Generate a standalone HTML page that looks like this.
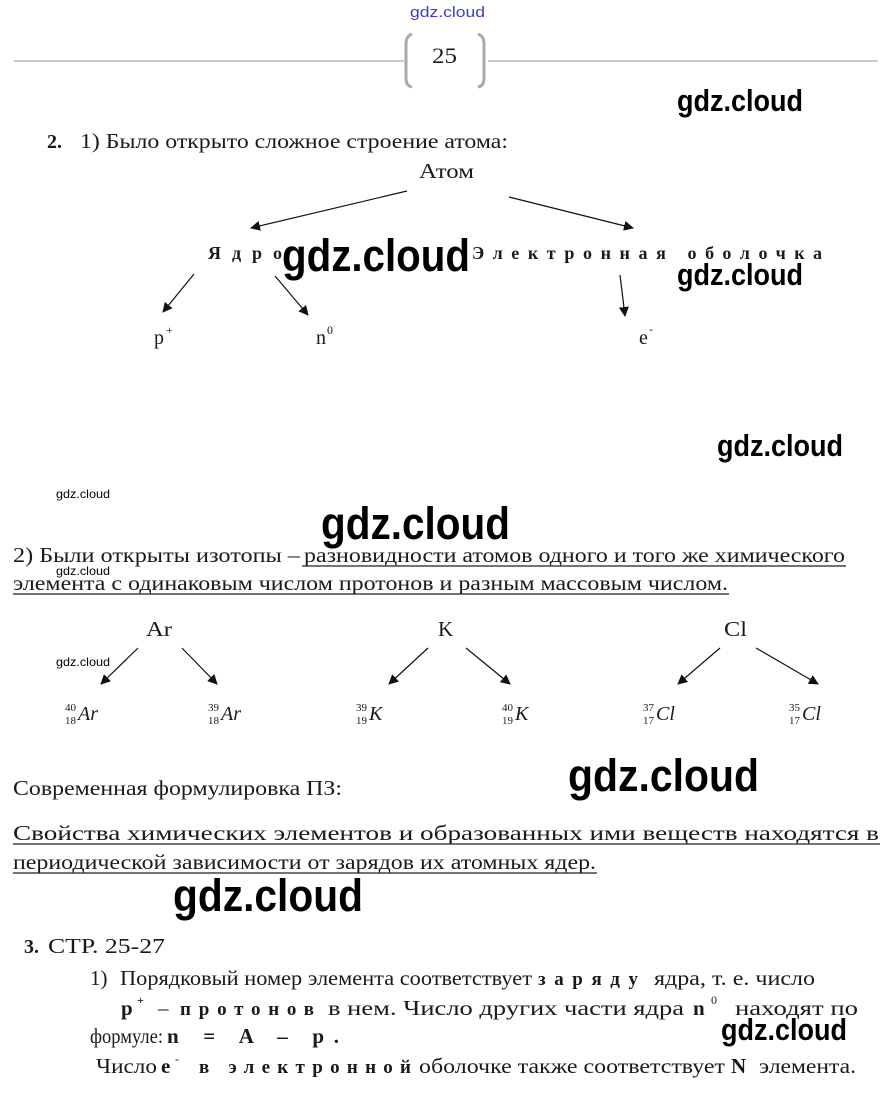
<!DOCTYPE html>
<html><head><meta charset="utf-8"><style>
html,body{margin:0;padding:0;background:#fff;}
svg{display:block;}
.s{font-family:"Liberation Serif","DejaVu Serif",serif;fill:#1a1a1a;}
.w{font-family:"Liberation Sans","DejaVu Sans",sans-serif;fill:#000;font-weight:bold;}
.b{font-weight:bold;}
</style></head><body>
<svg width="892" height="1101" viewBox="0 0 892 1101" xmlns="http://www.w3.org/2000/svg">
<defs>
<marker id="a" markerWidth="10" markerHeight="10" refX="9" refY="5" orient="auto" markerUnits="userSpaceOnUse" viewBox="0 0 10 10">
<path d="M0,0 L10,5 L0,10 z" fill="#111"/></marker>
</defs>
<text x="410" y="17" font-size="15" style="fill:#3b3bd0;font-family:'Liberation Sans',sans-serif" textLength="75" lengthAdjust="spacingAndGlyphs">gdz.cloud</text>
<line x1="14" y1="61" x2="404" y2="61" stroke="#bbb" stroke-width="1.5"/>
<line x1="488" y1="61" x2="878" y2="61" stroke="#bbb" stroke-width="1.5"/>
<path d="M412,34 Q406,36 406,44 L406,78 Q406,86 412,87" fill="none" stroke="#aaa" stroke-width="3"/>
<path d="M478,34 Q484,36 484,44 L484,78 Q484,86 478,87" fill="none" stroke="#aaa" stroke-width="3"/>
<text class="s" x="432" y="63" font-size="22" textLength="25" lengthAdjust="spacingAndGlyphs">25</text>
<text class="w" x="677" y="111" font-size="31" textLength="126" lengthAdjust="spacingAndGlyphs">gdz.cloud</text>

<text class="s b" x="47" y="148" font-size="20">2.</text>
<text class="s" x="80" y="148" font-size="21" textLength="428" lengthAdjust="spacingAndGlyphs">1) Было открыто сложное строение атома:</text>
<text class="s" x="419" y="178" font-size="21" textLength="55" lengthAdjust="spacingAndGlyphs">Атом</text>
<line x1="407" y1="191" x2="251" y2="228" stroke="#111" stroke-width="1.2" marker-end="url(#a)"/>
<line x1="509" y1="197" x2="633" y2="228" stroke="#111" stroke-width="1.2" marker-end="url(#a)"/>
<text class="s b" x="208" y="259" font-size="18" textLength="74" lengthAdjust="spacing">Ядро</text>
<text class="s b" x="472" y="259" font-size="18" textLength="350" lengthAdjust="spacing">Электронная оболочка</text>
<text class="w" x="282" y="271" font-size="45" textLength="188" lengthAdjust="spacingAndGlyphs">gdz.cloud</text>
<text class="w" x="677" y="285" font-size="31" textLength="126" lengthAdjust="spacingAndGlyphs">gdz.cloud</text>
<line x1="194" y1="274" x2="163" y2="312" stroke="#111" stroke-width="1.2" marker-end="url(#a)"/>
<line x1="275" y1="276" x2="308" y2="315" stroke="#111" stroke-width="1.2" marker-end="url(#a)"/>
<line x1="620" y1="275" x2="625" y2="316" stroke="#111" stroke-width="1.2" marker-end="url(#a)"/>
<text class="s" x="154" y="344" font-size="20">p</text><text class="s" x="166" y="334" font-size="12">+</text>
<text class="s" x="316" y="344" font-size="20">n</text><text class="s" x="327" y="334" font-size="12">0</text>
<text class="s" x="639" y="344" font-size="20">e</text><text class="s" x="649" y="333" font-size="12">-</text>

<text class="w" x="717" y="456" font-size="31" textLength="126" lengthAdjust="spacingAndGlyphs">gdz.cloud</text>
<text class="w" x="56" y="498" font-size="12" textLength="54" lengthAdjust="spacingAndGlyphs" style="font-weight:normal">gdz.cloud</text>
<text class="w" x="321" y="539" font-size="45" textLength="189" lengthAdjust="spacingAndGlyphs">gdz.cloud</text>

<text class="s" x="13" y="562" font-size="21" textLength="287" lengthAdjust="spacingAndGlyphs">2) Были открыты изотопы –</text>
<text class="s" x="304" y="562" font-size="21" textLength="541" lengthAdjust="spacingAndGlyphs">разновидности атомов одного и того же химического</text>
<line x1="302" y1="566" x2="846" y2="566" stroke="#222" stroke-width="1.2"/>
<text class="w" x="56" y="575" font-size="12" textLength="54" lengthAdjust="spacingAndGlyphs" style="font-weight:normal">gdz.cloud</text>
<text class="s" x="13" y="590" font-size="21" textLength="715" lengthAdjust="spacingAndGlyphs">элемента с одинаковым числом протонов и разным массовым числом.</text>
<line x1="13" y1="594" x2="729" y2="594" stroke="#222" stroke-width="1.2"/>

<text class="s" x="146" y="636" font-size="21" textLength="26" lengthAdjust="spacingAndGlyphs">Ar</text>
<text class="s" x="438" y="636" font-size="21">K</text>
<text class="s" x="724" y="636" font-size="21" textLength="23" lengthAdjust="spacingAndGlyphs">Cl</text>
<line x1="138" y1="648" x2="101" y2="684" stroke="#111" stroke-width="1.2" marker-end="url(#a)"/>
<line x1="182" y1="648" x2="217" y2="684" stroke="#111" stroke-width="1.2" marker-end="url(#a)"/>
<line x1="428" y1="648" x2="389" y2="684" stroke="#111" stroke-width="1.2" marker-end="url(#a)"/>
<line x1="466" y1="648" x2="510" y2="684" stroke="#111" stroke-width="1.2" marker-end="url(#a)"/>
<line x1="720" y1="648" x2="678" y2="684" stroke="#111" stroke-width="1.2" marker-end="url(#a)"/>
<line x1="756" y1="648" x2="818" y2="684" stroke="#111" stroke-width="1.2" marker-end="url(#a)"/>
<text class="w" x="56" y="666" font-size="12" textLength="54" lengthAdjust="spacingAndGlyphs" style="font-weight:normal">gdz.cloud</text>

<g class="s" font-size="11">
<text x="65" y="711">40</text><text x="65" y="724">18</text>
<text x="208" y="711">39</text><text x="208" y="724">18</text>
<text x="356" y="711">39</text><text x="356" y="724">19</text>
<text x="502" y="711">40</text><text x="502" y="724">19</text>
<text x="643" y="711">37</text><text x="643" y="724">17</text>
<text x="789" y="711">35</text><text x="789" y="724">17</text>
</g>
<g class="s" font-size="20" font-style="italic">
<text x="78" y="720">Ar</text><text x="221" y="720">Ar</text>
<text x="369" y="720">K</text><text x="515" y="720">K</text>
<text x="656" y="720">Cl</text><text x="802" y="720">Cl</text>
</g>

<text class="s" x="13" y="795" font-size="21" textLength="329" lengthAdjust="spacingAndGlyphs">Современная формулировка ПЗ:</text>
<text class="w" x="568" y="791" font-size="45" textLength="191" lengthAdjust="spacingAndGlyphs">gdz.cloud</text>
<text class="s" x="13" y="840" font-size="21" textLength="866" lengthAdjust="spacingAndGlyphs">Свойства химических элементов и образованных ими веществ находятся в</text>
<line x1="13" y1="844" x2="880" y2="844" stroke="#222" stroke-width="1.2"/>
<text class="s" x="13" y="869" font-size="21" textLength="583" lengthAdjust="spacingAndGlyphs">периодической зависимости от зарядов их атомных ядер.</text>
<line x1="13" y1="873" x2="597" y2="873" stroke="#222" stroke-width="1.2"/>
<text class="w" x="173" y="911" font-size="45" textLength="190" lengthAdjust="spacingAndGlyphs">gdz.cloud</text>

<text class="s b" x="24" y="953" font-size="20">3.</text>
<text class="s" x="48" y="953" font-size="21" textLength="117" lengthAdjust="spacingAndGlyphs">СТР. 25-27</text>
<text class="s" x="90" y="985" font-size="21">1)</text>
<text class="s" x="120" y="985" font-size="21" textLength="412" lengthAdjust="spacingAndGlyphs">Порядковый номер элемента соответствует</text>
<text class="s b" x="538" y="985" font-size="19" textLength="100" lengthAdjust="spacing">заряду</text>
<text class="s" x="654" y="985" font-size="21" textLength="161" lengthAdjust="spacingAndGlyphs">ядра, т. е. число</text>

<text class="s b" x="121" y="1015" font-size="21">p</text><text class="s b" x="137" y="1004" font-size="12">+</text>
<text class="s" x="158" y="1015" font-size="21">–</text>
<text class="s b" x="180" y="1015" font-size="19" textLength="134" lengthAdjust="spacing">протонов</text>
<text class="s" x="328" y="1015" font-size="21" textLength="356" lengthAdjust="spacingAndGlyphs">в нем.  Число  других  части  ядра</text>
<text class="s b" x="693" y="1015" font-size="21">n</text><text class="s" x="711" y="1004" font-size="12">0</text>
<text class="s" x="735" y="1015" font-size="21" textLength="123" lengthAdjust="spacingAndGlyphs">находят  по</text>

<text class="s" x="90" y="1043" font-size="21" textLength="73" lengthAdjust="spacingAndGlyphs">формуле:</text>
<text class="s b" x="167" y="1043" font-size="21" textLength="172" lengthAdjust="spacing">n = A – p.</text>
<text class="w" x="721" y="1040" font-size="31" textLength="126" lengthAdjust="spacingAndGlyphs">gdz.cloud</text>

<text class="s" x="96" y="1073" font-size="21" textLength="61" lengthAdjust="spacingAndGlyphs">Число</text>
<text class="s b" x="161" y="1073" font-size="21">e</text><text class="s" x="175" y="1063" font-size="12">-</text>
<text class="s b" x="199" y="1073" font-size="19" textLength="212" lengthAdjust="spacing">в электронной</text>
<text class="s" x="419" y="1073" font-size="21" textLength="306" lengthAdjust="spacingAndGlyphs">оболочке также соответствует</text>
<text class="s b" x="731" y="1073" font-size="21">N</text>
<text class="s" x="759" y="1073" font-size="21" textLength="97" lengthAdjust="spacingAndGlyphs">элемента.</text>
</svg>
</body></html>
